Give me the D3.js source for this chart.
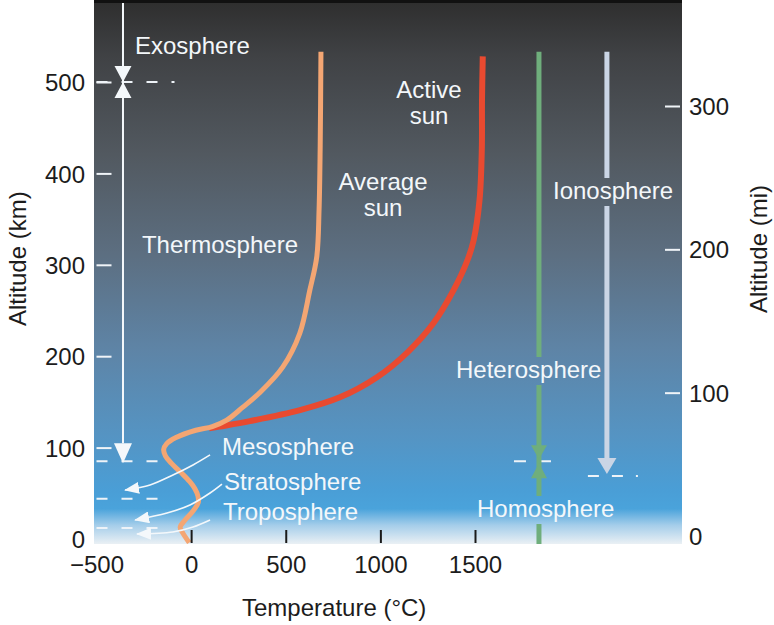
<!DOCTYPE html>
<html><head><meta charset="utf-8">
<script src="https://cdn.jsdelivr.net/npm/d3@7"></script>
<style>
html,body{margin:0;padding:0;background:#fff;}
svg{display:block;font-family:"Liberation Sans",Arial,Helvetica,sans-serif;}
</style></head><body>
<svg id="chart" width="774" height="625"></svg>
<script>
// ---------- data ----------
const kmTicks = [0, 100, 200, 300, 400, 500];
const miTicks = [0, 100, 200, 300];
const tempTicks = [-500, 0, 500, 1000, 1500];
// [temperature °C, altitude km]
const averageSun = [[-10,-4],[-45,7],[-58,13],[-35,20],[8,30],[38,40],[36,47],[20,55],[-8,63],[-55,73],[-105,83],[-136,91],[-145,98],[-130,104],[-80,111],[25,119],[112,123],[188,130],[272,144],[362,160],[484,188],[574,225],[627,272],[664,309],[676,360],[682,430],[686,533]];
const activeSun = [[95,121],[150,123],[310,129],[575,141],[786,155],[982,177],[1142,204],[1280,236],[1386,272],[1460,305],[1493,327],[1524,371],[1536,426],[1537,480],[1541,528]];
const layerBoundaries = [500, 85, 44, 12];           // km, dashed lines on the left
const layerNames = ["Exosphere", "Thermosphere", "Mesosphere", "Stratosphere", "Troposphere"];
const compositionBoundary = 85;                      // km, heterosphere / homosphere
const ionosphereBase = 69;                           // km
const columnTop = 533;                               // km, top of the drawn columns

// ---------- setup ----------
const W = 774, H = 625;
const P = {left: 94, right: 682, top: 3, bottom: 544};
const svg = d3.select("#chart");
const x = d3.scaleLinear().domain([-500, 1500]).range([96.5, 475]);
const y = d3.scaleLinear().domain([0, 500]).range([539, 82]);
const yMi = d3.scaleLinear().domain([0, 300]).range([536, 106]);
const colLayers = -360, colComposition = 1838, colIonosphere = 2197;
const fmt = d3.format("d");

const defs = svg.append("defs");
const grad = defs.append("linearGradient").attr("id", "bg")
  .attr("gradientUnits", "userSpaceOnUse").attr("x1", 0).attr("x2", 0).attr("y1", P.top).attr("y2", P.bottom);
[[0,"#2f2f2f"],[0.1,"#404245"],[0.28,"#525960"],[0.46,"#5c6e80"],[0.64,"#5e84a6"],[0.8,"#5594c3"],[0.9,"#4a9ed6"],[0.935,"#4aa3db"],[0.965,"#a4cdea"],[1,"#eaf0f4"]]
  .forEach(([o, c]) => grad.append("stop").attr("offset", o).attr("stop-color", c));
defs.append("clipPath").attr("id", "panel").append("rect")
  .attr("x", P.left).attr("y", P.top).attr("width", P.right - P.left).attr("height", P.bottom - P.top);
const mask = defs.append("mask").attr("id", "gap").attr("maskUnits", "userSpaceOnUse")
  .attr("x", 0).attr("y", 0).attr("width", W).attr("height", H);
mask.append("rect").attr("width", W).attr("height", H).attr("fill", "#fff");
defs.append("marker").attr("id", "head").attr("viewBox", "0 -6 15 12")
  .attr("refX", 14).attr("refY", 0).attr("markerWidth", 15).attr("markerHeight", 12)
  .attr("markerUnits", "userSpaceOnUse").attr("orient", "auto")
  .append("path").attr("d", "M0,-6L15,0L0,6Z").attr("fill", "#f4f8fb");

// panel
svg.append("rect").attr("x", P.left).attr("y", P.top).attr("width", P.right - P.left)
  .attr("height", P.bottom - P.top).attr("fill", "url(#bg)");
svg.append("line").attr("x1", P.left).attr("x2", P.right).attr("y1", 1.5).attr("y2", 1.5)
  .attr("stroke", "#111").attr("stroke-width", 3);

const g = svg.append("g").attr("clip-path", "url(#panel)");

// dashed layer boundaries (left)
g.selectAll("line.bound").data(layerBoundaries).join("line").attr("class", "bound")
  .attr("x1", x(-500)).attr("x2", (d, i) => i === 0 ? x(-500) + 78 : x(-500) + 64)
  .attr("y1", d => y(d)).attr("y2", d => y(d))
  .attr("stroke", "#eef3f8").attr("stroke-width", 2).attr("stroke-dasharray", "11,14");

// dashed boundaries (right)
const cx2 = x(colComposition), cx3 = x(colIonosphere);
g.append("line").attr("x1", cx2 - 25).attr("x2", cx2 + 14).attr("y1", y(compositionBoundary)).attr("y2", y(compositionBoundary))
  .attr("stroke", "#eef3f8").attr("stroke-width", 2).attr("stroke-dasharray", "12,13");
g.append("line").attr("x1", cx3 - 19).attr("x2", cx3 + 31).attr("y1", y(ionosphereBase)).attr("y2", y(ionosphereBase))
  .attr("stroke", "#eef3f8").attr("stroke-width", 2).attr("stroke-dasharray", "11,13");

// left white column with arrows
const cx1 = x(colLayers);
g.append("line").attr("x1", cx1).attr("x2", cx1).attr("y1", P.top).attr("y2", y(layerBoundaries[1]) - 18)
  .attr("stroke", "#f4f8fb").attr("stroke-width", 2);
const yb = y(layerBoundaries[0]);
g.append("path").attr("fill", "#f4f8fb")
  .attr("d", `M${cx1-8.5},${yb-16}L${cx1+8.5},${yb-16}L${cx1},${yb}Z M${cx1-8.5},${yb+16}L${cx1+8.5},${yb+16}L${cx1},${yb}Z`);
const yt = y(83);
g.append("path").attr("fill", "#f4f8fb")
  .attr("d", `M${cx1-9},${yt-20}L${cx1+9},${yt-20}L${cx1},${yt}Z`);

// composition + ionosphere columns (masked under labels)
const cols = g.append("g").attr("mask", "url(#gap)");
const green = "#6fae7c", iono = "#cad5e5";
const yc = y(compositionBoundary);
cols.append("line").attr("x1", cx2).attr("x2", cx2).attr("y1", y(columnTop)).attr("y2", P.bottom)
  .attr("stroke", green).attr("stroke-width", 5);
cols.append("path").attr("fill", green)
  .attr("d", `M${cx2-8},${yc-16}L${cx2+8},${yc-16}L${cx2},${yc-2}Z M${cx2-8},${yc+17}L${cx2+8},${yc+17}L${cx2},${yc+2}Z`);
const yi = y(ionosphereBase) - 2;
cols.append("line").attr("x1", cx3).attr("x2", cx3).attr("y1", y(columnTop)).attr("y2", yi - 14)
  .attr("stroke", iono).attr("stroke-width", 5);
cols.append("path").attr("fill", iono)
  .attr("d", `M${cx3-9.5},${yi-16}L${cx3+9.5},${yi-16}L${cx3},${yi}Z`);

// temperature curves
const line = d3.line().x(d => x(d[0])).y(d => y(d[1])).curve(d3.curveCatmullRom.alpha(0.5));
g.append("path").datum(activeSun).attr("d", line).attr("fill", "none")
  .attr("stroke", "#e94a30").attr("stroke-width", 6);
g.append("path").datum(averageSun).attr("d", line).attr("fill", "none")
  .attr("stroke", "#f4a673").attr("stroke-width", 5);

// thin curved label arrows
const arrows = [
  [[100,92],[10,81],[-96,70],[-217,59],[-286,55.8],[-349,53.6]],
  [[163,60],[100,50.3],[-6,37.2],[-127,28.4],[-296,20.8]],
  [[100,20.8],[10,13.1],[-96,7.7],[-286,5.5]]
];
const aline = d3.line().x(d => x(d[0])).y(d => y(d[1])).curve(d3.curveCatmullRom);
g.selectAll("path.arr").data(arrows).join("path").attr("class", "arr").attr("d", aline)
  .attr("fill", "none").attr("stroke", "#f4f8fb").attr("stroke-width", 1.6).attr("marker-end", "url(#head)");

// labels inside the panel
const labels = [
  {t: layerNames[0], x: 135, y: 54, a: "start"},
  {t: layerNames[1], x: 298, y: 253, a: "end"},
  {t: layerNames[2], x: 222, y: 455, a: "start"},
  {t: layerNames[3], x: 224, y: 490, a: "start"},
  {t: layerNames[4], x: 223, y: 520, a: "start"},
  {t: "Active", x: 429, y: 98, a: "middle"},
  {t: "sun", x: 429, y: 124, a: "middle"},
  {t: "Average", x: 383, y: 190, a: "middle"},
  {t: "sun", x: 383, y: 216, a: "middle"},
  {t: "Ionosphere", x: 553, y: 199, a: "start", gap: true},
  {t: "Heterosphere", x: 456, y: 378, a: "start", gap: true},
  {t: "Homosphere", x: 477, y: 517, a: "start", gap: true}
];
const lt = svg.append("g").selectAll("text").data(labels).join("text")
  .attr("x", d => d.x).attr("y", d => d.y).attr("text-anchor", d => d.a)
  .attr("font-size", 24).attr("fill", "#f3f7fa").text(d => d.t);
lt.filter(d => d.gap).each(function() {
  const b = this.getBBox();
  mask.append("rect").attr("x", b.x - 2).attr("y", b.y + 1).attr("width", b.width + 4).attr("height", b.height + 1).attr("fill", "#000");
});

// ---------- axes ----------
const axisTxt = "#1c1c1c";
// left ticks (white, inside)
const la = svg.append("g").attr("transform", `translate(${x(-500)},0)`)
  .call(d3.axisRight(y).tickValues(kmTicks.filter(d => d > 0)).tickSize(15).tickFormat(""));
la.select(".domain").remove();
la.selectAll("line").attr("stroke", "#f0f4f8").attr("stroke-width", 2);
// left labels
const ll = svg.append("g").attr("transform", "translate(85,0)")
  .call(d3.axisLeft(y).tickValues(kmTicks).tickSize(0).tickPadding(0).tickFormat(fmt));
ll.select(".domain").remove();
ll.selectAll("text").attr("font-size", 24).attr("font-family", null).attr("fill", axisTxt).attr("dy", "0.36em");

// right ticks (white, inside)
const ra = svg.append("g").attr("transform", `translate(${P.right - 2},0)`)
  .call(d3.axisLeft(yMi).tickValues(miTicks.filter(d => d > 0)).tickSize(15).tickFormat(""));
ra.select(".domain").remove();
ra.selectAll("line").attr("stroke", "#f0f4f8").attr("stroke-width", 2);
const rl = svg.append("g").attr("transform", "translate(689,0)")
  .call(d3.axisRight(yMi).tickValues(miTicks).tickSize(0).tickPadding(0).tickFormat(fmt));
rl.select(".domain").remove();
rl.selectAll("text").attr("font-size", 24).attr("font-family", null).attr("fill", axisTxt).attr("dy", "0.36em");

// bottom ticks (dark, inside)
const ba = svg.append("g").attr("transform", `translate(0,${P.bottom - 1})`)
  .call(d3.axisTop(x).tickValues(tempTicks.filter(d => d >= 0)).tickSize(13).tickFormat(""));
ba.select(".domain").remove();
ba.selectAll("line").attr("stroke", "#1a1a1a").attr("stroke-width", 2);
const bl = svg.append("g").attr("transform", "translate(0,556)")
  .call(d3.axisBottom(x).tickValues(tempTicks).tickSize(0).tickPadding(0).tickFormat(fmt));
bl.select(".domain").remove();
bl.selectAll("text").attr("font-size", 24).attr("font-family", null).attr("fill", axisTxt).attr("dy", "0.71em");

// axis titles
svg.append("text").attr("transform", "translate(26,326) rotate(-90)").attr("text-anchor", "start")
  .attr("font-size", 24).attr("fill", axisTxt).text("Altitude (km)");
svg.append("text").attr("transform", "translate(767,313) rotate(-90)").attr("text-anchor", "start")
  .attr("font-size", 24).attr("fill", axisTxt).text("Altitude (mi)");
svg.append("text").attr("x", 242).attr("y", 616).attr("text-anchor", "start")
  .attr("font-size", 24).attr("fill", axisTxt).text("Temperature (°C)");
</script>
</body></html>
